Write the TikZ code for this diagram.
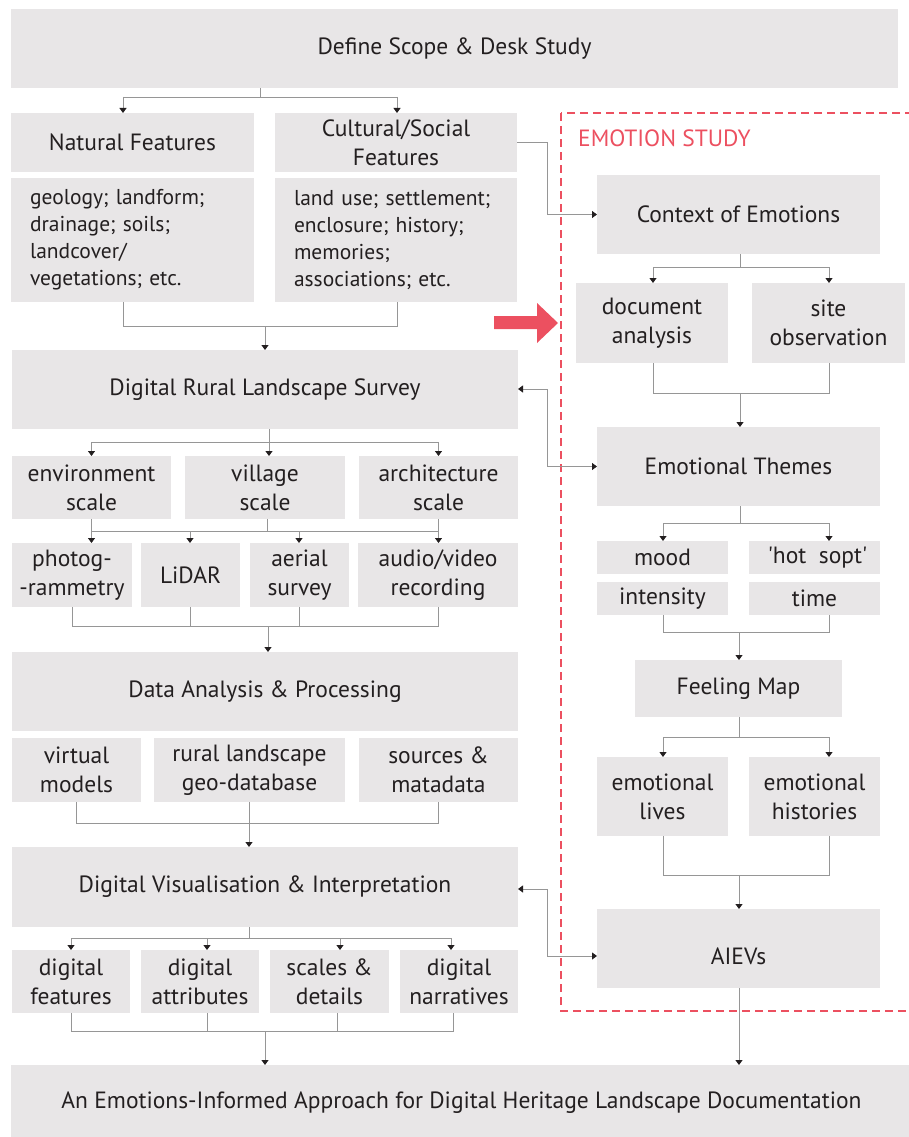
\documentclass[tikz,border=0pt]{standalone}
\usepackage{fontspec}
\setmainfont{PT Sans}
\usetikzlibrary{arrows.meta}
\definecolor{boxgray}{RGB}{232,230,231}
\definecolor{txt}{RGB}{35,31,32}
\definecolor{ln}{RGB}{150,150,150}
\definecolor{emo}{RGB}{236,80,96}
\newcommand\fs{\fontsize{23.5}{29}\selectfont}
\newcommand\fsd{\fontsize{21.5}{27}\selectfont}
\newcommand\bx[6]{\node[box, minimum width={#4-#2}, minimum height={#5-#3}] (#1) at ({(#2+#4)/2},{(#3+#5)/2}) {#6};}
\newcommand\dbx[6]{\node[box, font=\fsd, align=left, inner xsep=19pt, text width={#4-#2-38}, minimum width={#4-#2}, minimum height={#5-#3}] (#1) at ({(#2+#4)/2},{(#3+#5)/2}) {#6};}
\begin{document}
\begin{tikzpicture}[x=1pt,y=-1pt,
  box/.style={fill=boxgray, draw=none, inner sep=0pt, outer sep=0pt, align=center, text=txt, font=\fs},
  conn/.style={draw=ln, line width=0.9pt},
  arr/.style={conn, -{Triangle[length=5pt,width=7pt,color=txt]}},
  darr/.style={conn, {Triangle[length=5pt,width=7pt,color=txt]}-{Triangle[length=5pt,width=7pt,color=txt]}},
  emolabel/.style={text=emo, font=\fs, inner sep=0pt, anchor=west}
]
\useasboundingbox (0,0) rectangle (909,1137);
\begin{scope}
\clip (0,0) rectangle (909,1137);
% ---------- emotion frame ----------
\draw[emo, line width=2pt, dash pattern=on 8pt off 5pt] (561,113) rectangle (918,1011);
\node[emolabel] (emotitle) at (578,138) {EMOTION STUDY};

% ---------- left column ----------
\bx{top}{11}{9}{898}{88}{Define Scope \& Desk Study}
\bx{nat}{11}{113}{254}{172}{Natural Features}
\dbx{natd}{11}{178}{254}{302}{geology; landform;\\drainage; soils;\\landcover/\\vegetations; etc.}
\bx{cul}{275}{113}{517}{172}{Cultural/Social\\Features}
\dbx{culd}{275}{178}{517}{302}{land use; settlement;\\enclosure; history;\\memories;\\associations; etc.}
\bx{drls}{12}{350}{518}{429}{Digital Rural Landscape Survey}
\bx{env}{12}{456}{171}{519}{environment\\scale}
\bx{vil}{185}{456}{345}{519}{village\\scale}
\bx{arc}{359}{456}{518}{519}{architecture\\scale}
\bx{pho}{12}{543}{132}{607}{photog-\\-rammetry}
\bx{lid}{141}{543}{240}{607}{LiDAR}
\bx{aer}{250}{543}{349}{607}{aerial\\survey}
\bx{aud}{358}{543}{518}{607}{audio/video\\recording}
\bx{da}{12}{652}{518}{731}{Data Analysis \& Processing}
\bx{vm}{12}{738}{141}{802}{virtual\\models}
\bx{rl}{154}{738}{345}{802}{rural landscape\\geo-database}
\bx{sm}{359}{738}{518}{802}{sources \&\\matadata}
\bx{dvi}{12}{847}{518}{927}{Digital Visualisation \& Interpretation}
\bx{df}{12}{950}{130}{1013}{digital\\features}
\bx{dat}{141}{950}{259}{1013}{digital\\attributes}
\bx{sd}{270}{950}{389}{1013}{scales \&\\details}
\bx{dn}{400}{950}{518}{1013}{digital\\narratives}
\bx{bot}{11}{1065}{912}{1140}{An Emotions-Informed Approach for Digital Heritage Landscape Documentation}

% ---------- right column ----------
\bx{coe}{597}{175}{880}{254}{Context of Emotions}
\bx{doc}{576}{283}{728}{363}{document\\analysis}
\bx{site}{752}{283}{905}{363}{site\\observation}
\bx{et}{597}{427}{880}{506}{Emotional Themes}
\bx{mood}{597}{541}{728}{574}{mood}
\bx{hot}{749}{541}{880}{574}{\hspace*{6pt}\textquotesingle hot\ \ sopt\textquotesingle}
\bx{int}{597}{582}{728}{615}{intensity}
\bx{time}{749}{582}{880}{615}{time}
\bx{fm}{635}{660}{842}{717}{Feeling Map}
\bx{el}{597}{757}{728}{836}{emotional\\lives}
\bx{eh}{749}{757}{880}{836}{emotional\\histories}
\bx{aiev}{597}{909}{880}{988}{\raisebox{-16pt}[0pt][0pt]{AIEVs}}

% ---------- big red arrow ----------
\fill[emo] (494,316) -- (537,316) -- (537,303) -- (558,323) -- (537,343) -- (537,329) -- (494,329) -- cycle;

% ---------- connectors: left ----------
\coordinate (j1) at (260,97);
\draw[conn] (top.south -| j1) -- (j1);
\coordinate (j1a) at (123,97);
\coordinate (j1b) at (397,97);
\draw[conn] (j1a) -- (j1b);
\draw[arr] (j1a) -- (nat.north -| j1a);
\draw[arr] (j1b) -- (cul.north -| j1b);

\coordinate (j2a) at (123,326);
\coordinate (j2b) at (397,326);
\coordinate (j2) at (265,326);
\draw[conn] (natd.south -| j2a) -- (j2a) -- (j2b) -- (culd.south -| j2b);
\draw[arr] (j2) -- (drls.north -| j2);

\coordinate (j3) at (269,442);
\draw[conn] (drls.south -| j3) -- (j3);
\draw[conn] (env.north |- j3) -- (arc.north |- j3);
\draw[arr] (env.north |- j3) -- (env.north);
\draw[arr] (j3) -- (vil.north -| j3);
\draw[arr] (arc.north |- j3) -- (arc.north);

\coordinate (j4) at (267,531);
\coordinate (j4b) at (190,531);
\coordinate (j4c) at (299,531);
\draw[conn] (env.south) -- (env.south |- j4) -- (arc.south |- j4) -- (arc.south);
\draw[conn] (vil.south -| j4) -- (j4);
\draw[arr] (env.south |- j4) -- (pho.north -| env.south);
\draw[arr] (j4b) -- (lid.north -| j4b);
\draw[arr] (j4c) -- (aer.north -| j4c);
\draw[arr] (arc.south |- j4) -- (aud.north -| arc.south);

\coordinate (j5) at (268,626);
\draw[conn] (pho.south) -- (pho.south |- j5) -- (aud.south |- j5) -- (aud.south);
\draw[conn] (lid.south) -- (lid.south |- j5);
\draw[conn] (aer.south) -- (aer.south |- j5);
\draw[arr] (j5) -- (da.north -| j5);

\coordinate (j6) at (249,823);
\draw[conn] (vm.south) -- (vm.south |- j6) -- (sm.south |- j6) -- (sm.south);
\draw[conn] (rl.south -| j6) -- (j6);
\draw[arr] (j6) -- (dvi.north -| j6);

\coordinate (j7) at (249,938);
\coordinate (j7b) at (207,938);
\coordinate (j7c) at (340,938);
\coordinate (j7d) at (451,938);
\draw[conn] (dvi.south -| j7) -- (j7);
\draw[conn] (df.north |- j7) -- (j7d);
\draw[arr] (df.north |- j7) -- (df.north);
\draw[arr] (j7b) -- (dat.north -| j7b);
\draw[arr] (j7c) -- (sd.north -| j7c);
\draw[arr] (j7d) -- (dn.north -| j7d);

\coordinate (j8) at (265,1031);
\coordinate (j8b) at (207,1031);
\coordinate (j8c) at (337,1031);
\coordinate (j8d) at (453,1031);
\draw[conn] (df.south) -- (df.south |- j8) -- (j8d) -- (dn.south -| j8d);
\draw[conn] (dat.south -| j8b) -- (j8b);
\draw[conn] (sd.south -| j8c) -- (j8c);
\draw[arr] (j8) -- (bot.north -| j8);

% ---------- connectors: right ----------
\coordinate (k1) at (740,267);
\coordinate (k1a) at (653,267);
\coordinate (k1b) at (829,267);
\draw[conn] (coe.south -| k1) -- (k1);
\draw[conn] (k1a) -- (k1b);
\draw[arr] (k1a) -- (doc.north -| k1a);
\draw[arr] (k1b) -- (site.north -| k1b);

\coordinate (k2) at (740,393);
\draw[conn] (doc.south -| k1a) -- (k1a |- k2) -- (k1b |- k2) -- (site.south -| k1b);
\draw[arr] (k2) -- (et.north -| k2);

\coordinate (k3) at (740,523);
\coordinate (k3a) at (663,523);
\coordinate (k3b) at (829,523);
\draw[conn] (et.south -| k3) -- (k3);
\draw[conn] (k3a) -- (k3b);
\draw[arr] (k3a) -- (mood.north -| k3a);
\draw[arr] (k3b) -- (hot.north -| k3b);

\coordinate (k4) at (739,632);
\draw[conn] (int.south -| k3a) -- (k3a |- k4) -- (k3b |- k4) -- (time.south -| k3b);
\draw[arr] (k4) -- (fm.north -| k4);

\coordinate (k5) at (739,737);
\draw[conn] (fm.south -| k5) -- (k5);
\draw[conn] (k3a |- k5) -- (k3b |- k5);
\draw[arr] (k3a |- k5) -- (el.north -| k3a);
\draw[arr] (k3b |- k5) -- (eh.north -| k3b);

\coordinate (k6) at (739,875);
\draw[conn] (el.south -| k3a) -- (k3a |- k6) -- (k3b |- k6) -- (eh.south -| k3b);
\draw[arr] (k6) -- (aiev.north -| k6);

\draw[arr] (aiev.south -| k6) -- (bot.north -| k6);

% ---------- cross connectors ----------
\coordinate (x1) at (547,142);
\draw[arr] (cul.east |- x1) -- (x1) |- (coe.west);
\coordinate (x2) at (547,389);
\draw[darr] (drls.east |- x2) -- (x2) |- (et.west);
\coordinate (x3) at (547,889);
\coordinate (x3b) at (547,956);
\draw[darr] (dvi.east |- x3) -- (x3) -- (x3b) -- (aiev.west |- x3b);
\end{scope}
\end{tikzpicture}
\end{document}
